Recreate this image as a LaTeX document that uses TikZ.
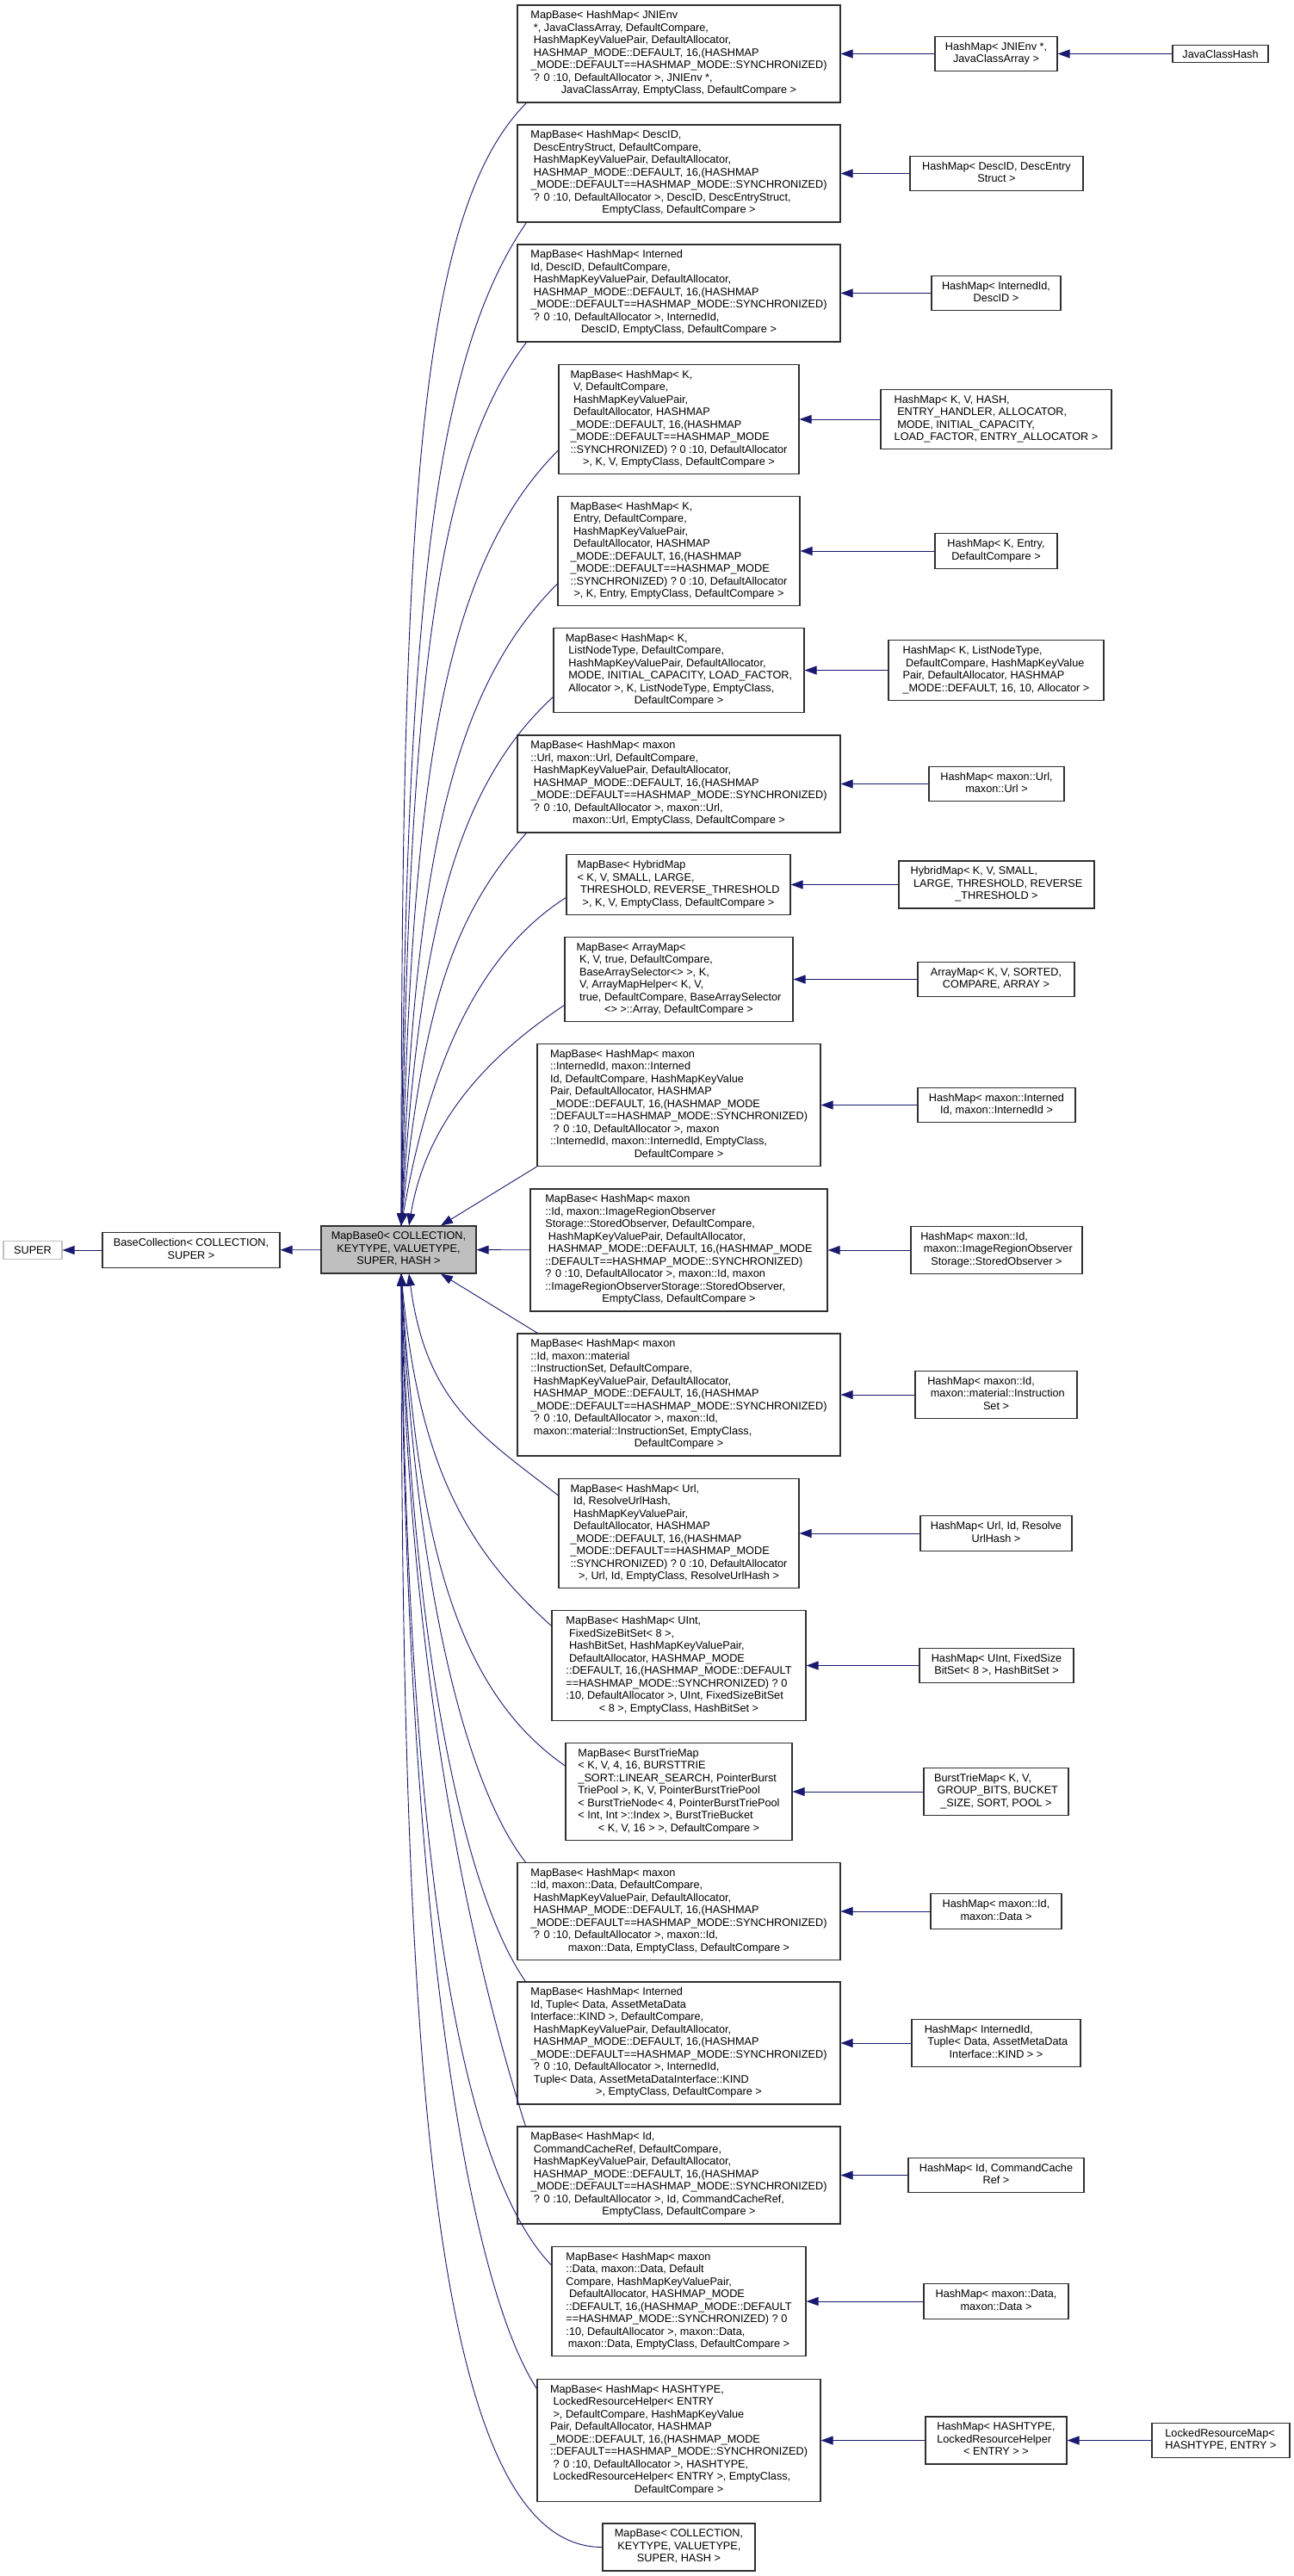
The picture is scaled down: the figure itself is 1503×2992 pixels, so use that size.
\documentclass[tikz,border=0pt]{standalone}
\usepackage{fontspec}
\setmainfont{Liberation Sans}
\usetikzlibrary{arrows.meta}
\definecolor{edgeblue}{RGB}{25,25,112}
\definecolor{boxline}{RGB}{48,48,48}
\definecolor{supline}{RGB}{191,191,191}
\definecolor{basegray}{RGB}{191,191,191}
\newcommand{\boxtext}[1]{\begin{tabular}{@{}l@{}}#1\end{tabular}}
\newcommand{\lastrow}[1]{\multicolumn{1}{@{}c@{}}{#1}}
\newcommand{\indsp}{\hspace*{0.278em}}

\begin{document}
\begin{tikzpicture}[x=1pt, y=-1pt,
  cbox/.style={draw=boxline, line width=1.1pt, fill=white, inner xsep=10pt, inner ysep=5.75pt,
    minimum width=#1, font=\fontsize{12.7}{14.5}\selectfont},
  edge/.style={draw=edgeblue, line width=0.9pt, -{Triangle[length=14pt, width=10pt]}}]
  \path[fill=white, use as bounding box] (0,0) rectangle (1503,2992);

  % Base classes
  \node[cbox=68, draw=supline] (super) at (38,1452) {SUPER};
  \node[cbox=206] (bcoll) at (222,1452) {\boxtext{\lastrow{BaseCollection< COLLECTION,}\\\lastrow{SUPER >}}};
  \node[cbox=180, fill=basegray] (mbase) at (463,1451.5) {\boxtext{\lastrow{MapBase0< COLLECTION,}\\\lastrow{KEYTYPE, VALUETYPE,}\\\lastrow{SUPER, HASH >}}};
  \draw[edge] (bcoll) -- (super);
  \draw[edge] (mbase) -- (bcoll);

  % MapBase specialisations
  \node[cbox=375] (mb1) at (788.5,62.5) {\boxtext{MapBase< HashMap< JNIEnv\\
    \indsp *, JavaClassArray, DefaultCompare,\\
    \indsp HashMapKeyValuePair, DefaultAllocator,\\
    \indsp HASHMAP\_MODE::DEFAULT, 16,(HASHMAP\\
    \_MODE::DEFAULT==HASHMAP\_MODE::SYNCHRONIZED)\\
    \indsp ? 0 :10, DefaultAllocator >, JNIEnv *,\\
    \lastrow{JavaClassArray, EmptyClass, DefaultCompare >}}};
  \node[cbox=375] (mb2) at (788.5,201.5) {\boxtext{MapBase< HashMap< DescID,\\
    \indsp DescEntryStruct, DefaultCompare,\\
    \indsp HashMapKeyValuePair, DefaultAllocator,\\
    \indsp HASHMAP\_MODE::DEFAULT, 16,(HASHMAP\\
    \_MODE::DEFAULT==HASHMAP\_MODE::SYNCHRONIZED)\\
    \indsp ? 0 :10, DefaultAllocator >, DescID, DescEntryStruct,\\
    \lastrow{EmptyClass, DefaultCompare >}}};
  \node[cbox=375] (mb3) at (788.5,340.5) {\boxtext{MapBase< HashMap< Interned\\
    Id, DescID, DefaultCompare,\\
    \indsp HashMapKeyValuePair, DefaultAllocator,\\
    \indsp HASHMAP\_MODE::DEFAULT, 16,(HASHMAP\\
    \_MODE::DEFAULT==HASHMAP\_MODE::SYNCHRONIZED)\\
    \indsp ? 0 :10, DefaultAllocator >, InternedId,\\
    \lastrow{DescID, EmptyClass, DefaultCompare >}}};
  \node[cbox=279] (mb4) at (788.5,487) {\boxtext{MapBase< HashMap< K,\\
    \indsp V, DefaultCompare,\\
    \indsp HashMapKeyValuePair,\\
    \indsp DefaultAllocator, HASHMAP\\
    \_MODE::DEFAULT, 16,(HASHMAP\\
    \_MODE::DEFAULT==HASHMAP\_MODE\\
    ::SYNCHRONIZED) ? 0 :10, DefaultAllocator\\
    \lastrow{>, K, V, EmptyClass, DefaultCompare >}}};
  \node[cbox=281] (mb5) at (788.5,640) {\boxtext{MapBase< HashMap< K,\\
    \indsp Entry, DefaultCompare,\\
    \indsp HashMapKeyValuePair,\\
    \indsp DefaultAllocator, HASHMAP\\
    \_MODE::DEFAULT, 16,(HASHMAP\\
    \_MODE::DEFAULT==HASHMAP\_MODE\\
    ::SYNCHRONIZED) ? 0 :10, DefaultAllocator\\
    \lastrow{>, K, Entry, EmptyClass, DefaultCompare >}}};
  \node[cbox=291] (mb6) at (788.5,778.5) {\boxtext{MapBase< HashMap< K,\\
    \indsp ListNodeType, DefaultCompare,\\
    \indsp HashMapKeyValuePair, DefaultAllocator,\\
    \indsp MODE, INITIAL\_CAPACITY, LOAD\_FACTOR,\\
    \indsp Allocator >, K, ListNodeType, EmptyClass,\\
    \lastrow{DefaultCompare >}}};
  \node[cbox=375] (mb7) at (788.5,910.5) {\boxtext{MapBase< HashMap< maxon\\
    ::Url, maxon::Url, DefaultCompare,\\
    \indsp HashMapKeyValuePair, DefaultAllocator,\\
    \indsp HASHMAP\_MODE::DEFAULT, 16,(HASHMAP\\
    \_MODE::DEFAULT==HASHMAP\_MODE::SYNCHRONIZED)\\
    \indsp ? 0 :10, DefaultAllocator >, maxon::Url,\\
    \lastrow{maxon::Url, EmptyClass, DefaultCompare >}}};
  \node[cbox=260] (mb8) at (788,1027.5) {\boxtext{MapBase< HybridMap\\
    < K, V, SMALL, LARGE,\\
    \indsp THRESHOLD, REVERSE\_THRESHOLD\\
    \lastrow{>, K, V, EmptyClass, DefaultCompare >}}};
  \node[cbox=265] (mb9) at (788.5,1137.5) {\boxtext{MapBase< ArrayMap<\\
    \indsp K, V, true, DefaultCompare,\\
    \indsp BaseArraySelector<> >, K,\\
    \indsp V, ArrayMapHelper< K, V,\\
    \indsp true, DefaultCompare, BaseArraySelector\\
    \lastrow{<> >::Array, DefaultCompare >}}};
  \node[cbox=329] (mb10) at (788.5,1283.5) {\boxtext{MapBase< HashMap< maxon\\
    ::InternedId, maxon::Interned\\
    Id, DefaultCompare, HashMapKeyValue\\
    Pair, DefaultAllocator, HASHMAP\\
    \_MODE::DEFAULT, 16,(HASHMAP\_MODE\\
    ::DEFAULT==HASHMAP\_MODE::SYNCHRONIZED)\\
    \indsp ? 0 :10, DefaultAllocator >, maxon\\
    ::InternedId, maxon::InternedId, EmptyClass,\\
    \lastrow{DefaultCompare >}}};
  \node[cbox=345] (mb11) at (788.5,1452) {\boxtext{MapBase< HashMap< maxon\\
    ::Id, maxon::ImageRegionObserver\\
    Storage::StoredObserver, DefaultCompare,\\
    \indsp HashMapKeyValuePair, DefaultAllocator,\\
    \indsp HASHMAP\_MODE::DEFAULT, 16,(HASHMAP\_MODE\\
    ::DEFAULT==HASHMAP\_MODE::SYNCHRONIZED)\\
    ? 0 :10, DefaultAllocator >, maxon::Id, maxon\\
    ::ImageRegionObserverStorage::StoredObserver,\\
    \lastrow{EmptyClass, DefaultCompare >}}};
  \node[cbox=375] (mb12) at (788.5,1620) {\boxtext{MapBase< HashMap< maxon\\
    ::Id, maxon::material\\
    ::InstructionSet, DefaultCompare,\\
    \indsp HashMapKeyValuePair, DefaultAllocator,\\
    \indsp HASHMAP\_MODE::DEFAULT, 16,(HASHMAP\\
    \_MODE::DEFAULT==HASHMAP\_MODE::SYNCHRONIZED)\\
    \indsp ? 0 :10, DefaultAllocator >, maxon::Id,\\
    \indsp maxon::material::InstructionSet, EmptyClass,\\
    \lastrow{DefaultCompare >}}};
  \node[cbox=279] (mb13) at (788.5,1781) {\boxtext{MapBase< HashMap< Url,\\
    \indsp Id, ResolveUrlHash,\\
    \indsp HashMapKeyValuePair,\\
    \indsp DefaultAllocator, HASHMAP\\
    \_MODE::DEFAULT, 16,(HASHMAP\\
    \_MODE::DEFAULT==HASHMAP\_MODE\\
    ::SYNCHRONIZED) ? 0 :10, DefaultAllocator\\
    \lastrow{>, Url, Id, EmptyClass, ResolveUrlHash >}}};
  \node[cbox=295] (mb14) at (788.5,1934.5) {\boxtext{MapBase< HashMap< UInt,\\
    \indsp FixedSizeBitSet< 8 >,\\
    \indsp HashBitSet, HashMapKeyValuePair,\\
    \indsp DefaultAllocator, HASHMAP\_MODE\\
    ::DEFAULT, 16,(HASHMAP\_MODE::DEFAULT\\
    ==HASHMAP\_MODE::SYNCHRONIZED) ? 0\\
    :10, DefaultAllocator >, UInt, FixedSizeBitSet\\
    \lastrow{< 8 >, EmptyClass, HashBitSet >}}};
  \node[cbox=263] (mb15) at (788.5,2081) {\boxtext{MapBase< BurstTrieMap\\
    < K, V, 4, 16, BURSTTRIE\\
    \_SORT::LINEAR\_SEARCH, PointerBurst\\
    TriePool >, K, V, PointerBurstTriePool\\
    < BurstTrieNode< 4, PointerBurstTriePool\\
    < Int, Int >::Index >, BurstTrieBucket\\
    \lastrow{< K, V, 16 > >, DefaultCompare >}}};
  \node[cbox=375] (mb16) at (788.5,2220) {\boxtext{MapBase< HashMap< maxon\\
    ::Id, maxon::Data, DefaultCompare,\\
    \indsp HashMapKeyValuePair, DefaultAllocator,\\
    \indsp HASHMAP\_MODE::DEFAULT, 16,(HASHMAP\\
    \_MODE::DEFAULT==HASHMAP\_MODE::SYNCHRONIZED)\\
    \indsp ? 0 :10, DefaultAllocator >, maxon::Id,\\
    \lastrow{maxon::Data, EmptyClass, DefaultCompare >}}};
  \node[cbox=375] (mb17) at (788.5,2373) {\boxtext{MapBase< HashMap< Interned\\
    Id, Tuple< Data, AssetMetaData\\
    Interface::KIND >, DefaultCompare,\\
    \indsp HashMapKeyValuePair, DefaultAllocator,\\
    \indsp HASHMAP\_MODE::DEFAULT, 16,(HASHMAP\\
    \_MODE::DEFAULT==HASHMAP\_MODE::SYNCHRONIZED)\\
    \indsp ? 0 :10, DefaultAllocator >, InternedId,\\
    \indsp Tuple< Data, AssetMetaDataInterface::KIND\\
    \lastrow{>, EmptyClass, DefaultCompare >}}};
  \node[cbox=375] (mb18) at (788.5,2526.5) {\boxtext{MapBase< HashMap< Id,\\
    \indsp CommandCacheRef, DefaultCompare,\\
    \indsp HashMapKeyValuePair, DefaultAllocator,\\
    \indsp HASHMAP\_MODE::DEFAULT, 16,(HASHMAP\\
    \_MODE::DEFAULT==HASHMAP\_MODE::SYNCHRONIZED)\\
    \indsp ? 0 :10, DefaultAllocator >, Id, CommandCacheRef,\\
    \lastrow{EmptyClass, DefaultCompare >}}};
  \node[cbox=295] (mb19) at (788.5,2673) {\boxtext{MapBase< HashMap< maxon\\
    ::Data, maxon::Data, Default\\
    Compare, HashMapKeyValuePair,\\
    \indsp DefaultAllocator, HASHMAP\_MODE\\
    ::DEFAULT, 16,(HASHMAP\_MODE::DEFAULT\\
    ==HASHMAP\_MODE::SYNCHRONIZED) ? 0\\
    :10, DefaultAllocator >, maxon::Data,\\
    \lastrow{maxon::Data, EmptyClass, DefaultCompare >}}};
  \node[cbox=329] (mb20) at (788.5,2834.5) {\boxtext{MapBase< HashMap< HASHTYPE,\\
    \indsp LockedResourceHelper< ENTRY\\
    \indsp >, DefaultCompare, HashMapKeyValue\\
    Pair, DefaultAllocator, HASHMAP\\
    \_MODE::DEFAULT, 16,(HASHMAP\_MODE\\
    ::DEFAULT==HASHMAP\_MODE::SYNCHRONIZED)\\
    \indsp ? 0 :10, DefaultAllocator >, HASHTYPE,\\
    \indsp LockedResourceHelper< ENTRY >, EmptyClass,\\
    \lastrow{DefaultCompare >}}};
  \node[cbox=177] (mb21) at (788.5,2958.5) {\boxtext{MapBase< COLLECTION,\\
    \indsp KEYTYPE, VALUETYPE,\\
    \lastrow{SUPER, HASH >}}};

  % Edges into MapBase0, top
  \draw[edge] ([xshift=11]mb1.south west) .. controls +(-130,130) and +(0,-800) .. ([xshift=3]mbase.north);
  \draw[edge] ([xshift=11]mb2.south west) .. controls +(-110,160) and +(4,-700) .. ([xshift=3]mbase.north);
  \draw[edge] ([xshift=11]mb3.south west) .. controls +(-110,145) and +(8,-600) .. ([xshift=3]mbase.north);
  \draw[edge] ([yshift=-36]mb4.west) .. controls +(-140,140) and +(12,-500) .. ([xshift=3]mbase.north);
  \draw[edge] ([yshift=-38]mb5.west) .. controls +(-130,130) and +(16,-400) .. ([xshift=3]mbase.north);
  \draw[edge] ([yshift=-31]mb6.west) .. controls +(-120,110) and +(20,-320) .. ([xshift=3]mbase.north);
  \draw[edge] ([xshift=11]mb7.south west) .. controls +(-90,100) and +(24,-240) .. ([xshift=3]mbase.north);
  \draw[edge] ([yshift=-15]mb8.west) .. controls +(-110,70) and +(30,-170) .. ([xshift=3]mbase.north);
  \draw[edge] ([yshift=-30]mb9.west) .. controls +(-90,60) and +(20,-120) .. ([xshift=12]mbase.north);
  \draw[edge] (mb10.south west) -- ([xshift=49]mbase.north);
  \draw[edge] (mb11) -- (mbase);

  % Edges into MapBase0, bottom
  \draw[edge] ([xshift=24]mb12.north west) -- ([xshift=49]mbase.south);
  \draw[edge] ([yshift=44]mb13.west) .. controls +(-90,-70) and +(20,150) .. ([xshift=12]mbase.south);
  \draw[edge] ([yshift=46]mb14.west) .. controls +(-100,-90) and +(20,220) .. ([xshift=3]mbase.south);
  \draw[edge] ([yshift=30]mb15.west) .. controls +(-130,-90) and +(18,300) .. ([xshift=3]mbase.south);
  \draw[edge] ([xshift=10]mb16.north west) .. controls +(-70,-90) and +(16,360) .. ([xshift=3]mbase.south);
  \draw[edge] ([xshift=10]mb17.north west) .. controls +(-70,-100) and +(12,440) .. ([xshift=3]mbase.south);
  \draw[edge] ([xshift=10]mb18.north west) .. controls +(-40,-125) and +(8,520) .. ([xshift=3]mbase.south);
  \draw[edge] ([yshift=42]mb19.west) .. controls +(-120,-125) and +(6,600) .. ([xshift=3]mbase.south);
  \draw[edge] ([yshift=60]mb20.west) .. controls +(-90,-140) and +(4,680) .. ([xshift=3]mbase.south);
  \draw[edge] (mb21.west) .. controls +(-200,0) and +(0,900) .. ([xshift=3]mbase.south);

  % HashMap and other templates
  \node[cbox=142] (hm1) at (1157,62.5) {\boxtext{HashMap< JNIEnv *,\\\lastrow{JavaClassArray >}}};
  \node[cbox=201] (hm2) at (1157.5,201.5) {\boxtext{HashMap< DescID, DescEntry\\\lastrow{Struct >}}};
  \node[cbox=150] (hm3) at (1157,340.5) {\boxtext{HashMap< InternedId,\\\lastrow{DescID >}}};
  \node[cbox=268] (hm4) at (1157,487) {\boxtext{HashMap< K, V, HASH,\\
    \indsp ENTRY\_HANDLER, ALLOCATOR,\\
    \indsp MODE, INITIAL\_CAPACITY,\\
    \lastrow{LOAD\_FACTOR, ENTRY\_ALLOCATOR >}}};
  \node[cbox=142] (hm5) at (1157,640) {\boxtext{HashMap< K, Entry,\\\lastrow{DefaultCompare >}}};
  \node[cbox=250] (hm6) at (1157,778.5) {\boxtext{HashMap< K, ListNodeType,\\
    \indsp DefaultCompare, HashMapKeyValue\\
    Pair, DefaultAllocator, HASHMAP\\
    \lastrow{\_MODE::DEFAULT, 16, 10, Allocator >}}};
  \node[cbox=157] (hm7) at (1157.5,910.5) {\boxtext{HashMap< maxon::Url,\\\lastrow{maxon::Url >}}};
  \node[cbox=227] (hm8) at (1157.5,1027.5) {\boxtext{HybridMap< K, V, SMALL,\\
    \indsp LARGE, THRESHOLD, REVERSE\\
    \lastrow{\_THRESHOLD >}}};
  \node[cbox=182] (hm9) at (1157,1137.5) {\boxtext{ArrayMap< K, V, SORTED,\\\lastrow{COMPARE, ARRAY >}}};
  \node[cbox=183] (hm10) at (1157.5,1283.5) {\boxtext{HashMap< maxon::Interned\\\lastrow{Id, maxon::InternedId >}}};
  \node[cbox=199] (hm11) at (1157.5,1452) {\boxtext{HashMap< maxon::Id,\\
    \indsp maxon::ImageRegionObserver\\
    \lastrow{Storage::StoredObserver >}}};
  \node[cbox=188] (hm12) at (1157,1620) {\boxtext{HashMap< maxon::Id,\\
    \indsp maxon::material::Instruction\\
    \lastrow{Set >}}};
  \node[cbox=176] (hm13) at (1157,1781) {\boxtext{HashMap< Url, Id, Resolve\\\lastrow{UrlHash >}}};
  \node[cbox=179] (hm14) at (1157.5,1934.5) {\boxtext{HashMap< UInt, FixedSize\\\lastrow{BitSet< 8 >, HashBitSet >}}};
  \node[cbox=168] (hm15) at (1157,2081) {\boxtext{BurstTrieMap< K, V,\\
    \indsp GROUP\_BITS, BUCKET\\
    \lastrow{\_SIZE, SORT, POOL >}}};
  \node[cbox=152] (hm16) at (1157,2220) {\boxtext{HashMap< maxon::Id,\\\lastrow{maxon::Data >}}};
  \node[cbox=196] (hm17) at (1157,2373) {\boxtext{HashMap< InternedId,\\
    \indsp Tuple< Data, AssetMetaData\\
    \lastrow{Interface::KIND > >}}};
  \node[cbox=204] (hm18) at (1157,2526.5) {\boxtext{HashMap< Id, CommandCache\\\lastrow{Ref >}}};
  \node[cbox=168] (hm19) at (1157,2673) {\boxtext{HashMap< maxon::Data,\\\lastrow{maxon::Data >}}};
  \node[cbox=164] (hm20) at (1157,2834.5) {\boxtext{HashMap< HASHTYPE,\\
    LockedResourceHelper\\
    \lastrow{< ENTRY > >}}};
  \foreach \i in {1,...,20}
    \draw[edge] (hm\i) -- (mb\i);

  % Leaf classes
  \node[cbox=111] (jhash) at (1417.5,62.5) {JavaClassHash};
  \node[cbox=160] (lockmap) at (1418,2834.5) {\boxtext{LockedResourceMap<\\\lastrow{HASHTYPE, ENTRY >}}};
  \draw[edge] (jhash) -- (hm1);
  \draw[edge] (lockmap) -- (hm20);
\end{tikzpicture}
\end{document}
